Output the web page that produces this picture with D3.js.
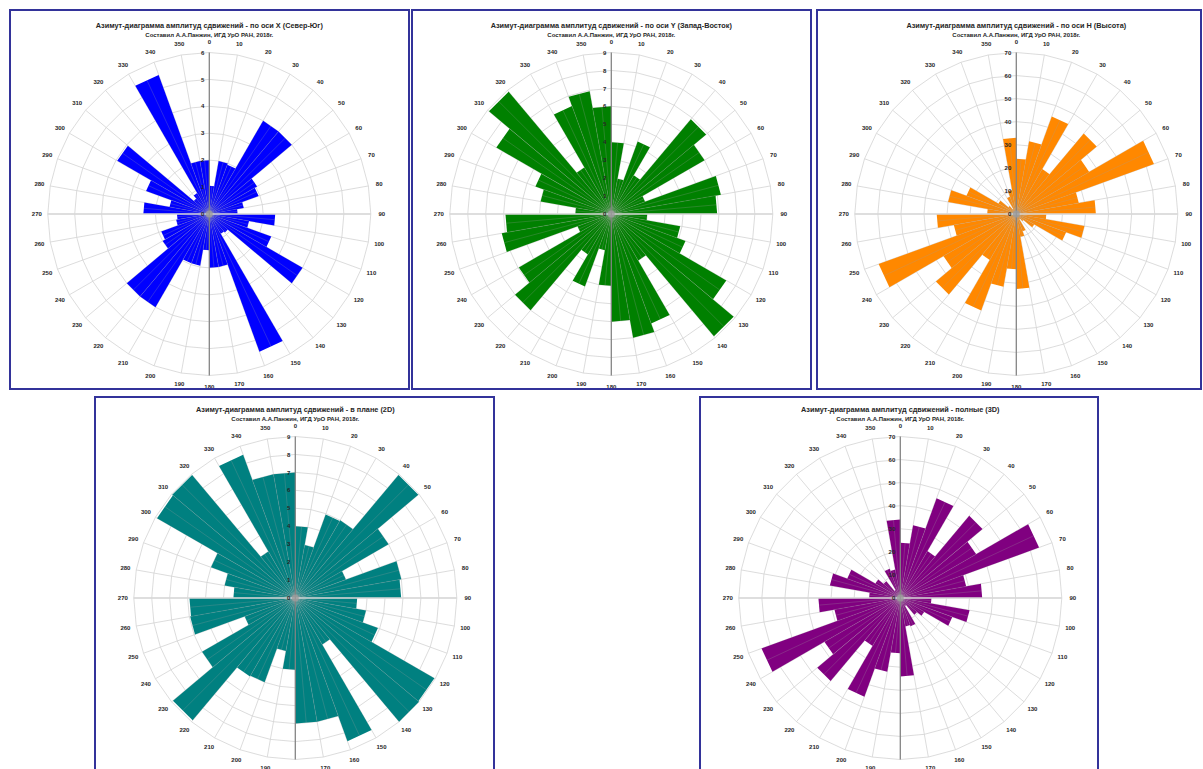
<!DOCTYPE html>
<html>
<head>
<meta charset="utf-8">
<script src="https://cdn.jsdelivr.net/npm/d3@7"></script>
<style>
  body { margin: 0; background: #ffffff; }
  svg { display: block; }
</style>
</head>
<body>
<svg id="roses" width="1203" height="769"></svg>
<script>
// azimuth of the start of each 10 degree sector
var azimuths = [0, 10, 20, 30, 40, 50, 60, 70, 80, 90, 100, 110, 120, 130, 140, 150, 160, 170,
  180, 190, 200, 210, 220, 230, 240, 250, 260, 270, 280, 290, 300, 310, 320, 330, 340, 350];

// amplitudes per sector
var valuesX = [1.05, 2.0, 1.95, 4.0, 4.0, 2.05, 1.95, 1.3, 1.05, 2.45, 1.5, 2.45, 4.0, 0.9, 0.85, 5.45, 2.0, 2.0,
  1.35, 1.95, 1.95, 4.0, 4.0, 2.0, 1.9, 1.25, 1.2, 2.45, 1.5, 2.5, 3.95, 0.75, 0.9, 5.5, 2.0, 2.0];
var valuesY = [4.0, 2.0, 4.3, 2.5, 6.9, 6.0, 2.0, 6.2, 5.9, 2.0, 3.9, 4.4, 7.4, 8.9, 3.0, 6.5, 7.0, 6.0,
  4.0, 2.05, 4.3, 2.6, 7.0, 5.95, 2.0, 6.2, 5.9, 2.0, 4.0, 4.5, 7.4, 8.9, 3.0, 6.4, 6.95, 6.0];
var valuesH = [24, 32, 45, 22.5, 45.5, 36.5, 63.5, 27.5, 34.5, 13, 30, 23, 9, 4, 2.5, 8, 10, 32.5,
  24, 32, 44.5, 23, 45.5, 36.5, 63.5, 27.5, 34.5, 12.6, 30, 23, 9, 4.5, 2.5, 8, 10.5, 33];
var values2D = [4.0, 3.0, 4.95, 5.0, 8.95, 6.0, 3.0, 6.0, 5.9, 3.45, 4.0, 4.9, 8.95, 9.0, 3.0, 8.5, 7.0, 7.0,
  4.0, 3.0, 5.0, 5.05, 8.9, 6.0, 3.0, 5.95, 5.9, 3.45, 4.0, 5.0, 8.9, 8.95, 3.0, 8.5, 7.0, 7.0];
var values3D = [24, 32, 46, 23.5, 46.5, 38, 64, 29, 35.5, 13.5, 30.5, 24, 12, 9.5, 4, 13, 12.5, 34,
  24, 32.5, 45.5, 24, 47, 38, 64, 29, 35.5, 13.5, 31, 24.5, 12.5, 9.5, 4, 13.5, 12.5, 34];

// radial tick labels
var ticksX = [0, 1, 2, 3, 4, 5, 6];
var ticksY = [0, 1, 2, 3, 4, 5, 6, 7, 8, 9];
var ticksH = [0, 10, 20, 30, 40, 50, 60, 70];
var ticks2D = [0, 1, 2, 3, 4, 5, 6, 7, 8, 9];
var ticks3D = [0, 10, 20, 30, 40, 50, 60, 70];

var titles = [
  "Азимут-диаграмма амплитуд сдвижений - по оси X (Север-Юг)",
  "Азимут-диаграмма амплитуд сдвижений - по оси Y (Запад-Восток)",
  "Азимут-диаграмма амплитуд сдвижений - по оси H (Высота)",
  "Азимут-диаграмма амплитуд сдвижений - в плане (2D)",
  "Азимут-диаграмма амплитуд сдвижений - полные (3D)"
];
var subtitle = "Составил А.А.Панжин, ИГД УрО РАН, 2018г.";

// layout
var R = 161.5;
var font = "'Liberation Sans', Arial, sans-serif";
var color_frame = "#33339a";
var color_grid = "#d3d3d3";
var color_axis = "#808080";
var color_text = "#262626";

var charts = [
  { title: titles[0], values: valuesX, ticks: ticksX, color: "#0000ff", cx: 209.3, cy: 214, frame: [10, 10, 409, 389] },
  { title: titles[1], values: valuesY, ticks: ticksY, color: "#008000", cx: 611.3, cy: 214, frame: [412, 10, 811, 389] },
  { title: titles[2], values: valuesH, ticks: ticksH, color: "#ff8800", cx: 1016.3, cy: 214, frame: [817, 10, 1201, 389] },
  { title: titles[3], values: values2D, ticks: ticks2D, color: "#008080", cx: 295.3, cy: 598, frame: [95, 397, 494, 790] },
  { title: titles[4], values: values3D, ticks: ticks3D, color: "#800080", cx: 900.3, cy: 598, frame: [700, 397, 1098, 790] }
];

var svg = d3.select("#roses");

function drawRose(c) {
  var g = svg.append("g").attr("transform", "translate(" + c.cx + "," + c.cy + ")");
  var r = d3.scaleLinear().domain([0, d3.max(c.ticks)]).range([0, R]);
  var ang = d3.scaleLinear().domain([0, 360]).range([0, 2 * Math.PI]);
  var poly = d3.lineRadial()
    .angle(d => ang(d[0]))
    .radius(d => r(d[1]))
    .curve(d3.curveLinearClosed);

  // rings
  c.ticks.slice(1).forEach(t => {
    g.append("path")
      .attr("d", poly(azimuths.map(z => [z, t])))
      .style("fill", "none")
      .style("stroke", color_grid)
      .style("stroke-width", 0.8);
  });

  // spokes
  azimuths.forEach(z => {
    var p = d3.pointRadial(ang(z), R);
    g.append("line")
      .attr("x1", 0).attr("y1", 0)
      .attr("x2", p[0]).attr("y2", p[1])
      .style("stroke", color_grid)
      .style("stroke-width", 0.8);
  });

  // sector bars
  c.values.forEach((v, i) => {
    var z = azimuths[i];
    g.append("path")
      .attr("d", poly([[z, 0], [z, v], [z + 10, v]]))
      .style("fill", c.color)
      .style("stroke", "none");
  });

  // seams inside the filled sectors
  c.values.forEach((v, i) => {
    var z = azimuths[i];
    var prev = c.values[(i + 35) % 36];
    var pm = d3.pointRadial(ang(z + 5), r(v) * Math.cos(Math.PI / 36));
    g.append("line")
      .attr("x1", 0).attr("y1", 0)
      .attr("x2", pm[0]).attr("y2", pm[1])
      .style("stroke", "#a0a0a0")
      .style("stroke-opacity", 0.5)
      .style("stroke-width", 0.5);
    var pe = d3.pointRadial(ang(z), r(Math.min(v, prev)));
    g.append("line")
      .attr("x1", 0).attr("y1", 0)
      .attr("x2", pe[0]).attr("y2", pe[1])
      .style("stroke", "#a0a0a0")
      .style("stroke-opacity", 0.5)
      .style("stroke-width", 0.5);
  });

  // horizontal 90-270 axis and vertical 0-180 axis
  var e = d3.pointRadial(ang(90), R);
  g.append("line")
    .attr("x1", -e[0]).attr("y1", 0).attr("x2", e[0]).attr("y2", 0)
    .style("stroke", "#d9d9d9")
    .style("stroke-width", 1.6);
  var n = d3.pointRadial(ang(0), R);
  g.append("line")
    .attr("x1", 0).attr("y1", n[1]).attr("x2", 0).attr("y2", -n[1])
    .style("stroke", color_axis)
    .style("stroke-width", 1.2);

  g.append("circle")
    .attr("r", 3.5)
    .style("fill", "#9c9c9c")
    .style("opacity", 0.8);

  // radial tick labels
  c.ticks.forEach(t => {
    g.append("text")
      .attr("x", -5)
      .attr("y", -r(t))
      .attr("dy", "0.35em")
      .style("text-anchor", "end")
      .style("font-family", font)
      .style("font-weight", "bold")
      .style("font-size", "6px")
      .style("fill", color_text)
      .text(t);
  });

  // azimuth labels
  azimuths.forEach(z => {
    var p = d3.pointRadial(ang(z), R + 11);
    g.append("text")
      .attr("x", p[0])
      .attr("y", p[1])
      .attr("dy", "0.35em")
      .style("text-anchor", "middle")
      .style("font-family", font)
      .style("font-weight", "bold")
      .style("font-size", "6px")
      .style("fill", color_text)
      .text(z);
  });

  // titles
  g.append("text")
    .attr("x", 0).attr("y", -186)
    .style("text-anchor", "middle")
    .style("font-family", font)
    .style("font-weight", "bold")
    .style("font-size", "7.3px")
    .style("fill", "#262626")
    .text(c.title);
  g.append("text")
    .attr("x", 0).attr("y", -177.5)
    .style("text-anchor", "middle")
    .style("font-family", font)
    .style("font-weight", "bold")
    .style("font-size", "6px")
    .style("fill", "#262626")
    .text(subtitle);

  // frame
  svg.append("rect")
    .attr("x", c.frame[0]).attr("y", c.frame[1])
    .attr("width", c.frame[2] - c.frame[0])
    .attr("height", c.frame[3] - c.frame[1])
    .style("fill", "none")
    .style("stroke", color_frame)
    .style("stroke-width", 2);
}

charts.forEach(drawRose);
</script>
</body>
</html>
